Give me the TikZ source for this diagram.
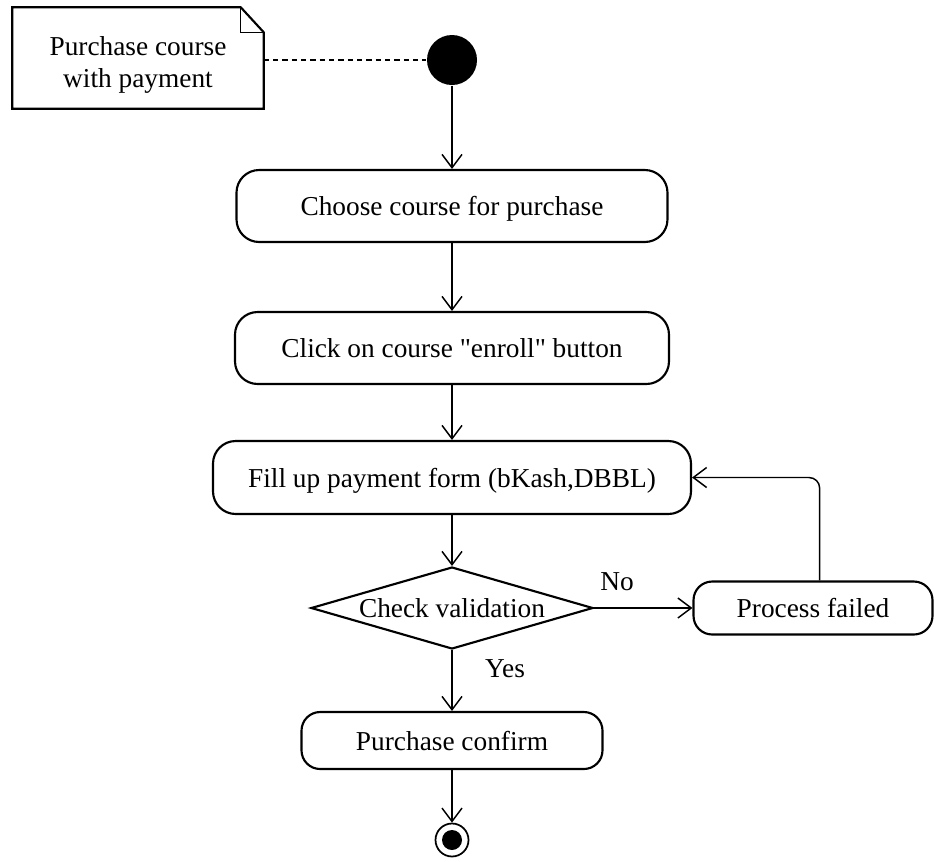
\documentclass[tikz,border=0pt]{standalone}
\usepackage{fontspec}
\setmainfont{Liberation Serif}
\usetikzlibrary{shapes.geometric,arrows.meta,calc}
\tikzset{every picture/.style={line width=1.1pt}}
\tikzset{
  activity/.style={draw, line width=1.6pt, rounded corners=17pt, align=center, inner sep=0pt},
  flow/.style={-{Straight Barb[length=10pt,width=15pt]}},
}

\begin{document}
\begin{tikzpicture}[x=0.75pt,y=0.75pt,yscale=-1,every node/.style={font=\fontsize{20.5}{23.5}\selectfont, text depth=0pt}]
\useasboundingbox (0,0) rectangle (934,861);

% Note
\node (note) at (138,58) [minimum width=187.5pt, minimum height=75pt, inner sep=0pt] {};
\node (notetext) at (138,62) [align=center, inner sep=0pt] {Purchase course\\with payment};
\draw [line width=1.6pt] (note.north west) -- ($(note.north east)+(-23,0)$) -- ($(note.north east)+(0,25)$) -- (note.south east) -- (note.south west) -- cycle;
\draw ($(note.north east)+(-23,0)$) -- ($(note.north east)+(-23,25)$) -- ($(note.north east)+(0,25)$);

% Start and end
\node (start) at (452,60) [circle, fill=black, minimum size=37.5pt, inner sep=0pt] {};
\node (final) at (452,840) [circle, draw, line width=1.3pt, minimum size=24.75pt, inner sep=0pt, path picture={\fill (path picture bounding box.center) circle (7.5pt);}] {};

% Activities
\node (choose) at (452,206) [activity, minimum width=323.25pt, minimum height=54pt] {Choose course for purchase};
\node (click) at (452,348) [activity, minimum width=325.5pt, minimum height=54pt] {Click on course \textquotedbl enroll\textquotedbl{} button};
\node (fill) at (452,477.5) [activity, minimum width=358.5pt, minimum height=54.75pt] {Fill up payment form (bKash,DBBL)};
\node (check) at (452,608) [draw, diamond, line width=1.6pt, aspect=3.4, minimum width=211.5pt, minimum height=61.5pt, inner sep=0pt] {Check validation};
\node (fail) at (813,608) [activity, rounded corners=14pt, minimum width=179.25pt, minimum height=39.75pt] {Process failed};
\node (confirm) at (452,740.5) [activity, rounded corners=14pt, minimum width=225.75pt, minimum height=42.75pt] {Purchase confirm};

% Text Node
\node (no) at (617,582) {No};
\node (yes) at (505,669) {Yes};

% Connectors
\draw [dashed, dash pattern=on 4pt off 3pt] (note.east |- start.west) -- (start.west);
\draw [flow] (start) -- (choose);
\draw [flow] (choose) -- (click);
\draw [flow] (click) -- (fill);
\draw [flow] (fill) -- (check);
\draw [flow] (check) -- (fail);
\draw [flow, rounded corners=8pt] ([xshift=5pt]fail.north) |- (fill.east);
\draw [flow] (check) -- (confirm);
\draw [flow] (confirm) -- (final);

\end{tikzpicture}
\end{document}
